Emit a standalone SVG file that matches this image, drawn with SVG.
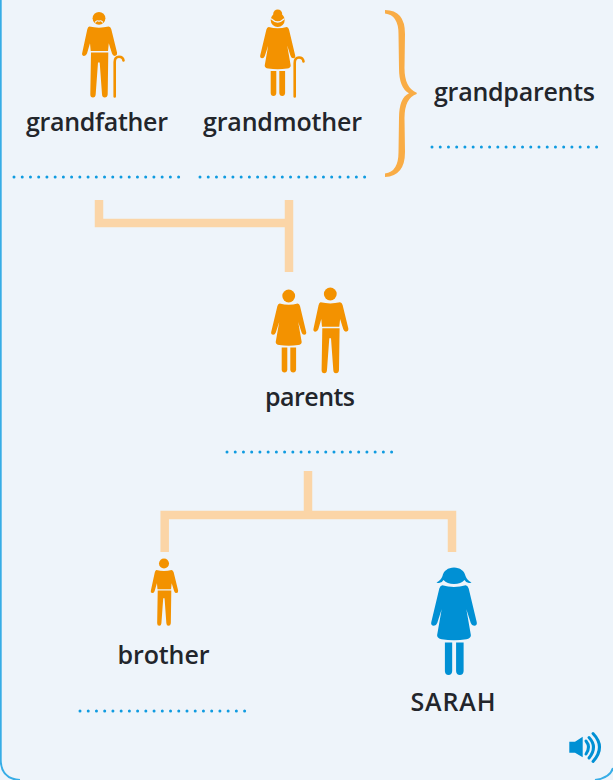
<svg xmlns="http://www.w3.org/2000/svg" width="613" height="780" viewBox="0 0 613 780">
<style>
.lbl{font-family:"Open Sans","Noto Sans","Liberation Sans",sans-serif;font-weight:600;font-size:25px;fill:#22252b;text-anchor:middle}
.dots{fill:none;stroke:#0f9be0;stroke-width:3;stroke-linecap:round;stroke-dasharray:0 8.23}
.conn{fill:none;stroke:#fbd5a7;stroke-width:8.5}
.o{fill:#f39200}
.b{fill:#0090d4}
.cane{fill:none;stroke:#f39200;stroke-width:2.6;stroke-linecap:round}
.face{fill:none;stroke:#eef4fa;stroke-width:1.2;stroke-linecap:round}
.snd{fill:none;stroke:#0090d4;stroke-width:3;stroke-linecap:round}
</style>
<defs>
<g id="man">
<circle cx="0" cy="0" r="6.4"/>
<path d="M-9.7 8.3Q0 10.5 9.7 8.3Q11.500 8.600 12.300 11L18 34.300Q18.500 37.400 15.700 37.700Q13.800 37.700 13 35.300L9.800 25L9 32.700L-8.300 32.700L-9 25L-12 35.300Q-13 37.900 -15.300 37.700Q-17.600 37 -16.700 34.300L-11.700 11Q-11 8.600 -9.700 8.300Z"/>
<path d="M-8 34.300L9.300 34.300L8.700 76Q8.400 79.300 5.700 79.300Q3.200 79.300 3 76L.7 44.300L-1 44.300L-3.300 76Q-3.600 79.300 -6 79.300Q-8.700 79.300 -8.700 76Z"/>
</g>
<g id="woman">
<path d="M-9 7.500Q0 10 9 7.500Q10.600 7.800 11.300 10L17.500 36Q18 38.500 15.500 38.700Q13.700 38.700 12.900 36.500L9.500 26L13 46Q12.900 48.500 9.500 49Q0 50.500 -9.500 49Q-12.900 48.500 -13 46L-9.500 26L-12.900 36.500Q-13.700 38.700 -15.500 38.700Q-18 38.500 -17.500 36L-11.300 10Q-10.600 7.800 -9 7.500Z"/>
<path d="M-7 51.500L-1.400 51.500L-1.400 73.500Q-1.600 76.500 -4.200 76.500Q-6.900 76.500 -7 73.500Z"/>
<path d="M1.600 51.500L7.400 51.500L7.400 73.500Q7.200 76.500 4.500 76.500Q1.800 76.500 1.600 73.500Z"/>
</g>
</defs>
<rect width="613" height="780" fill="#eef4fa"/>
<path d="M.7 0V760Q1 779 20 780M595 780Q610 778 613 768" fill="none" stroke="#37ade6" stroke-width="2"/>

<g id="connectors">
<path class="conn" d="M99 200V223H289M289 200V272"/>
<path class="conn" d="M308 471V515M164.700 552V515H452V552"/>
</g>
<path id="brace" fill="#f9ac45" d="M385 10Q405 10 405 34L404.500 68Q404.500 88 416.700 92.700L416.700 94Q404.500 98 404.500 118L405 152Q405 176 385 177L385 173.500Q398.500 172 398.500 152L399 118Q399 98 409 93.300Q399 88 399 68L398.500 34Q398.500 15 385 13.500Z"/>

<g id="grandfather">
<use href="#man" class="o" transform="translate(99 18.300)"/>
<path class="face" d="M95.500 22Q97.500 20 99 21.200Q100.500 20 102.500 22"/>
<path class="cane" d="M114.700 96.500V62Q114.700 56.700 119 56.700Q123 56.700 123.500 60.500"/>
<text class="lbl" x="97" y="131" textLength="142">grandfather</text>
<path class="dots" d="M14 177H181"/>
</g>
<g id="grandmother">
<circle class="o" cx="277.700" cy="14" r="4.500"/>
<use href="#woman" class="o" transform="translate(277.700 19.500)"/>
<circle class="o" cx="277.700" cy="20" r="7"/>
<path class="face" d="M271.500 19Q277.700 25 284 19"/>
<path class="cane" d="M294.700 96.500V63Q294.700 57.500 299 57.500Q303 57.500 303.500 61.500"/>
<text class="lbl" x="282.500" y="131" textLength="159">grandmother</text>
<path class="dots" d="M200 177H367"/>
</g>
<g id="grandparents">
<text class="lbl" x="514.500" y="101" textLength="161">grandparents</text>
<path class="dots" d="M432 147H597"/>
</g>
<g id="parents">
<use href="#woman" class="o" transform="translate(288.700 296)"/>
<circle class="o" cx="288.700" cy="296" r="6.400"/>
<use href="#man" class="o" transform="translate(330.300 294)"/>
<text class="lbl" x="310" y="406" textLength="90">parents</text>
<path class="dots" d="M227 452H394"/>
</g>
<g id="brother">
<use href="#man" class="o" transform="translate(164 563.500) scale(.785)"/>
<text class="lbl" x="163.500" y="664" textLength="92">brother</text>
<path class="dots" d="M80 711H247"/>
</g>
<g id="sarah">
<use href="#woman" class="b" transform="translate(454 575.500) scale(1.3)"/>
<path class="b" d="M454 567.500C460 567.500 464.500 571 465.500 576Q467 580 471.500 582.500Q467 584.500 464.500 580Q461 584 454 584Q447 584 443.500 580Q441 584.500 436.500 582.500Q441 580 442.500 576C443.500 571 448 567.500 454 567.500Z"/>
<text class="lbl" x="453" y="711" textLength="85">SARAH</text>
</g>
<g id="speaker">
<path class="b" d="M569.300 741.700H575L582.700 736.700V757.300L575 752.700H569.300Z"/>
<path class="snd" d="M586 741Q591 747 586 754"/>
<path class="snd" d="M589 737.500Q598 747 589 758"/>
<path class="snd" d="M593 733.500Q606 747 593 761.500"/>
</g>
</svg>
